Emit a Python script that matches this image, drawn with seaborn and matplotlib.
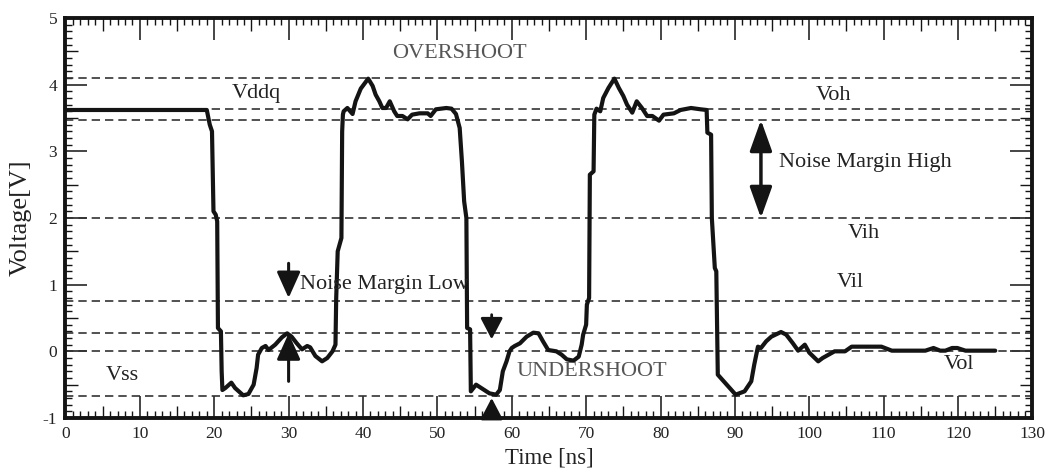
import numpy as np
import pandas as pd
import matplotlib
matplotlib.use("Agg")
import matplotlib.pyplot as plt
from matplotlib.ticker import MultipleLocator
import seaborn as sns

# ---------------- data ----------------
time_ns = [0, 19.0, 19.4, 19.7, 19.9, 20.2, 20.4, 20.5, 20.9, 21.0, 21.1, 21.5, 22.3, 22.8,
           23.9, 24.6, 25.3, 25.7, 25.9, 26.4, 26.9, 27.3, 28.2, 28.6, 29.1, 29.8, 30.4,
           31.1, 31.8, 32.5, 32.9, 33.6, 34.5, 35.2, 35.9, 36.3, 36.4, 36.6, 37.1, 37.2,
           37.3, 37.4, 37.9, 38.6, 39.0, 39.7, 40.7, 41.3, 41.7, 42.2, 42.6, 43.1, 43.6,
           44.2, 44.6, 45.3, 46.0, 46.6, 47.6, 48.7, 49.1, 49.8, 51.2, 51.9, 52.5, 53.0,
           53.3, 53.6, 53.9, 54.0, 54.4, 54.5, 55.2, 55.9, 57.0, 57.9, 58.4, 58.8, 59.3,
           59.7, 60.0, 60.4, 61.1, 62.0, 62.9, 63.6, 64.2, 64.9, 66.0, 66.7, 67.4, 68.3,
           69.0, 69.4, 69.6, 70.0, 70.1, 70.4, 70.5, 71.0, 71.1, 71.4, 71.9, 72.3, 73.0,
           73.8, 74.4, 75.0, 75.5, 76.2, 76.8, 77.5, 78.2, 78.9, 79.8, 80.4, 81.8, 82.7,
           84.1, 85.4, 86.2, 86.3, 86.8, 86.9, 87.3, 87.5, 87.7, 90.1, 91.3, 92.2, 92.6,
           93.1, 93.5, 94.2, 94.9, 96.2, 96.9, 97.8, 98.5, 99.4, 100.0, 101.2, 101.8,
           103.4, 104.8, 105.7, 107.5, 109.7, 111.1, 113.8, 115.6, 116.7, 117.6, 118.3,
           119.2, 119.9, 121.0, 125.0]
voltage = [3.62, 3.62, 3.4, 3.3, 2.1, 2.05, 1.95, 0.35, 0.3, -0.3, -0.58, -0.55, -0.47, -0.55,
           -0.66, -0.64, -0.5, -0.25, -0.05, 0.05, 0.08, 0.02, 0.1, 0.15, 0.21, 0.27, 0.22,
           0.12, 0.03, 0.08, 0.06, -0.07, -0.15, -0.1, 0.0, 0.1, 0.8, 1.5, 1.7, 3.3,
           3.55, 3.6, 3.65, 3.56, 3.75, 3.94, 4.09, 3.98, 3.85, 3.75, 3.65, 3.65, 3.75,
           3.6, 3.53, 3.53, 3.48, 3.55, 3.57, 3.57, 3.53, 3.63, 3.65, 3.64, 3.56, 3.35,
           2.85, 2.25, 2.0, 0.35, 0.33, -0.6, -0.5, -0.55, -0.63, -0.65, -0.58, -0.3, -0.15,
           0.0, 0.05, 0.08, 0.12, 0.22, 0.28, 0.27, 0.15, 0.02, 0.0, -0.05, -0.12, -0.14,
           -0.08, 0.1, 0.25, 0.4, 0.7, 0.8, 2.65, 2.7, 3.55, 3.64, 3.6, 3.8, 3.95,
           4.09, 3.95, 3.83, 3.7, 3.58, 3.75, 3.65, 3.53, 3.53, 3.46, 3.55, 3.57, 3.62,
           3.65, 3.63, 3.62, 3.28, 3.25, 2.0, 1.25, 1.2, -0.35, -0.65, -0.6, -0.45, -0.2,
           0.07, 0.05, 0.15, 0.22, 0.29, 0.25, 0.12, 0.01, 0.1, -0.02, -0.15, -0.1,
           0.0, 0.0, 0.07, 0.07, 0.07, 0.01, 0.01, 0.01, 0.05, 0.01, 0.01,
           0.05, 0.05, 0.01, 0.01]

level_values = [4.1, 3.63, 3.47, 2.0, 0.76, 0.27, 0.0, -0.67]

label_texts = ["OVERSHOOT", "Vddq", "Voh", "Vih", "Vil", "Vss", "UNDERSHOOT", "Vol"]
label_x = [53.0, 25.7, 103.2, 107.3, 105.5, 7.7, 70.8, 120.1]
label_y = [4.46, 3.86, 3.83, 1.77, 1.03, -0.36, -0.30, -0.20]
label_colors = ["#555555", "#222222", "#222222", "#222222", "#222222", "#222222",
                "#555555", "#222222"]

x_tick_labels = [str(v) for v in range(0, 131, 10)]
y_tick_labels = [str(v) for v in range(-1, 6)]

df = pd.DataFrame({"t": time_ns, "v": voltage})

# ---------------- style ----------------
sns.set_theme(style="white")
plt.rcParams["font.family"] = ["Liberation Serif", "DejaVu Serif"]

fig = plt.figure(figsize=(10.49, 4.72), dpi=100)
ax = fig.add_axes([0.0624, 0.1144, 0.9218, 0.8475])

for lv in level_values:
    ax.axhline(lv, color="#333333", lw=1.2, ls=(0, (5, 3)), zorder=1)

sns.lineplot(data=df, x="t", y="v", sort=False, estimator=None, color="#141414",
             lw=3.0, ax=ax, zorder=3)

ax.set_xlim(0, 130)
ax.set_ylim(-1, 5)

for txt, x, y, c in zip(label_texts, label_x, label_y, label_colors):
    ax.text(x, y, txt, ha="center", va="center", fontsize=16, color=c)

ax.text(95.9, 2.83, "Noise Margin High", ha="left", va="center", fontsize=16, color="#222222")
ax.text(31.5, 1.0, "Noise Margin Low", ha="left", va="center", fontsize=16, color="#222222")

# arrows
big = dict(arrowstyle="<|-|>,head_length=0.95,head_width=0.34", color="#141414", lw=2.5,
           shrinkA=0, shrinkB=0, mutation_scale=20)
ax.annotate("", xy=(93.5, 2.0), xytext=(93.5, 3.47), arrowprops=big)

single = dict(arrowstyle="-|>,head_length=0.8,head_width=0.36", color="#141414", lw=2.2,
              shrinkA=0, shrinkB=0, mutation_scale=20)
small = dict(arrowstyle="-|>,head_length=0.65,head_width=0.34", color="#141414", lw=2.0,
             shrinkA=0, shrinkB=0, mutation_scale=20)
ax.annotate("", xy=(30.0, 0.80), xytext=(30.0, 1.32), arrowprops=single)
ax.annotate("", xy=(30.0, 0.27), xytext=(30.0, -0.45), arrowprops=single)
ax.annotate("", xy=(57.3, 0.18), xytext=(57.3, 0.55), arrowprops=small)
ax.annotate("", xy=(57.3, -0.70), xytext=(57.3, -1.0), arrowprops=small)

# axes labels
ax.set_xlabel("Time [ns]", fontsize=16.5, labelpad=4, color="#222222")
ax.set_ylabel("Voltage[V]", fontsize=19, labelpad=8, color="#222222")

ax.xaxis.set_major_locator(MultipleLocator(10))
ax.xaxis.set_minor_locator(MultipleLocator(1))
ax.yaxis.set_major_locator(MultipleLocator(1))
ax.yaxis.set_minor_locator(MultipleLocator(0.1))
ax.set_xticks(range(0, 131, 10), x_tick_labels)
ax.set_yticks(range(-1, 6), y_tick_labels)

ax.tick_params(which="both", direction="in", top=True, right=True, bottom=True, left=True,
               color="#141414", labelsize=12.5, labelcolor="#222222")
ax.tick_params(which="major", length=16, width=1.1, pad=6)
ax.tick_params(which="minor", length=5, width=1.0)

for sp in ax.spines.values():
    sp.set_linewidth(2.8)
    sp.set_color("#141414")

fig.canvas.draw()
# medium ticks at half-major positions
for axis, step in ((ax.xaxis, 5.0), (ax.yaxis, 0.5)):
    locs = axis.get_minorticklocs()
    ticks = axis.get_minor_ticks(len(locs))
    for loc, tk in zip(locs, ticks):
        r = loc / step
        if abs(r - round(r)) < 1e-6:
            tk.tick1line.set_markersize(9)
            tk.tick2line.set_markersize(9)

fig.savefig("out.png", dpi=100)
